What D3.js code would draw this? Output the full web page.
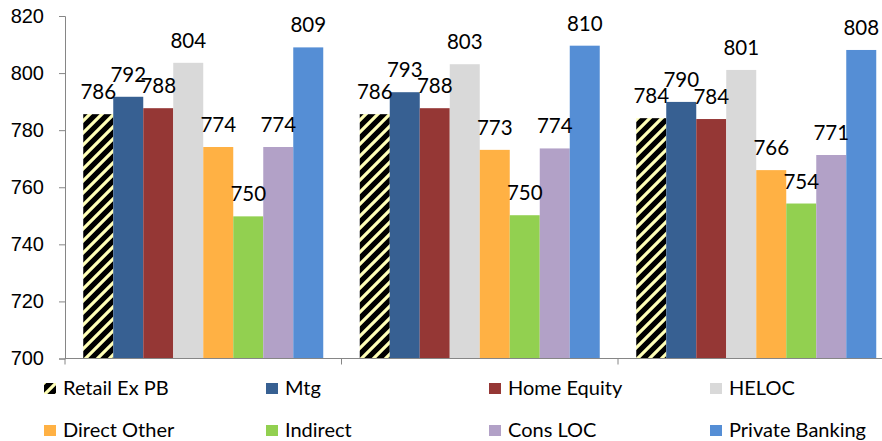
<!DOCTYPE html>
<html>
<head>
<meta charset="utf-8">
<script src="https://d3js.org/d3.v7.min.js"></script>
<style>
  body { margin: 0; background: #fff; }
  svg { display: block; font-family: Lato, "Noto Sans", sans-serif; }
  .val { font-size: 20.5px; fill: #000; text-anchor: middle; }
  .tick text { font-size: 20px; fill: #000; }
  .leg { font-size: 20px; fill: #000; }
</style>
</head>
<body>
<script>
// three unlabelled groups of bars
var groups = ["g1", "g2", "g3"];
var series = ["Retail Ex PB", "Mtg", "Home Equity", "HELOC",
              "Direct Other", "Indirect", "Cons LOC", "Private Banking"];
var colors = ["url(#hatch)", "#376092", "#953735", "#D9D9D9",
              "#FFB144", "#92D050", "#B2A1C7", "#558ED5"];

// values per series, one per group
var retail   = [785.6, 785.6, 784.2];
var mtg      = [791.7, 793.3, 789.9];
var homeEq   = [787.7, 787.7, 783.9];
var heloc    = [803.6, 803.1, 801.1];
var direct   = [774.1, 773.1, 766.0];
var indirect = [749.8, 750.2, 754.3];
var consLoc  = [774.1, 773.6, 771.3];
var privBank = [809.0, 809.6, 808.1];
var values = [retail, mtg, homeEq, heloc, direct, indirect, consLoc, privBank];

var yTicks = [700, 720, 740, 760, 780, 800, 820];

var W = 882, H = 441;
var svg = d3.select("body").append("svg").attr("width", W).attr("height", H);

var defs = svg.append("defs");
var pat = defs.append("pattern").attr("id", "hatch")
    .attr("patternUnits", "userSpaceOnUse").attr("width", 12).attr("height", 12);
pat.append("rect").attr("width", 12).attr("height", 12).attr("fill", "#000");
pat.append("path").attr("d", "M-3,15 L15,-3 M-3,3 L3,-3 M9,15 L15,9")
    .attr("stroke", "#FFFFB8").attr("stroke-width", 3.2);

var x0 = d3.scaleBand().domain(groups).range([65, 894.5])
    .paddingInner(0.132).paddingOuter(0.066);
var x1 = d3.scaleBand().domain(series).range([0, x0.bandwidth()]);
var y = d3.scaleLinear().domain([700, 820]).range([358.5, 16]);

// bars
var rows = [];
groups.forEach(function (g, gi) {
  series.forEach(function (s, si) {
    rows.push({ g: g, s: s, si: si, v: values[si][gi] });
  });
});

svg.append("g").selectAll("rect").data(rows).enter().append("rect")
    .attr("x", function (d) { return x0(d.g) + x1(d.s); })
    .attr("y", function (d) { return y(d.v); })
    .attr("width", x1.bandwidth())
    .attr("height", function (d) { return y(700) - y(d.v); })
    .attr("fill", function (d) { return colors[d.si]; });

svg.append("g").selectAll("text").data(rows).enter().append("text")
    .attr("class", "val")
    .attr("x", function (d) { return x0(d.g) + x1(d.s) + x1.bandwidth() / 2; })
    .attr("y", function (d) { return y(d.v) - 15; })
    .text(function (d) { return Math.round(d.v); });

// axes
var yAxis = svg.append("g").attr("transform", "translate(65,0)")
    .call(d3.axisLeft(y).tickValues(yTicks).tickSize(6).tickPadding(15).tickFormat(d3.format("d")));
yAxis.selectAll("path, line").attr("stroke", "#868686");

var xAxis = svg.append("g").attr("transform", "translate(0,358.5)");
xAxis.append("line").attr("x1", 65).attr("x2", 894.5).attr("stroke", "#868686");
xAxis.selectAll("line.t").data(d3.range(groups.length + 1)).enter().append("line")
    .attr("class", "t")
    .attr("x1", function (i) { return 65 + i * x0.step(); })
    .attr("x2", function (i) { return 65 + i * x0.step(); })
    .attr("y1", 0).attr("y2", 6).attr("stroke", "#868686");

// legend
var legX = [44, 266, 489, 710], legY = [383, 425];
var leg = svg.append("g").selectAll("g").data(series).enter().append("g")
    .attr("transform", function (d, i) {
      return "translate(" + legX[i % 4] + "," + legY[Math.floor(i / 4)] + ")";
    });
leg.append("rect").attr("width", 12).attr("height", 11)
    .attr("fill", function (d, i) { return colors[i]; });
leg.append("text").attr("class", "leg").attr("x", 19).attr("y", 11.5)
    .text(function (d) { return d; });
</script>
</body>
</html>
